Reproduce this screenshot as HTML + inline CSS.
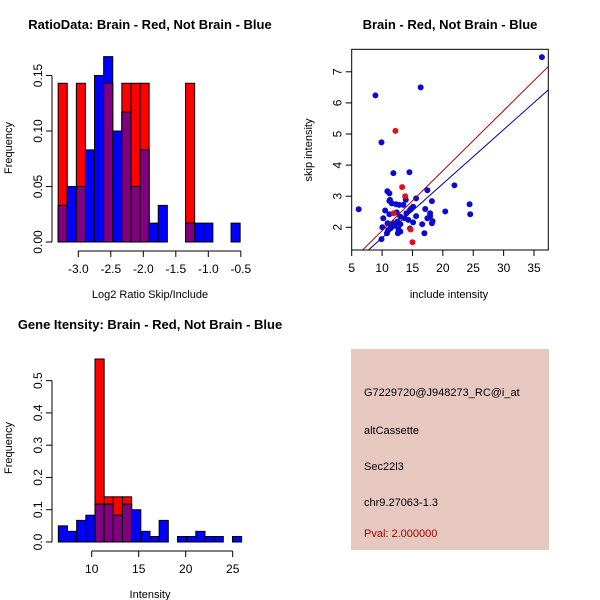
<!DOCTYPE html>
<html><head><meta charset="utf-8"><style>
html,body{margin:0;padding:0;background:#fff;}
svg{display:block;font-family:"Liberation Sans",Arial,sans-serif;}
</style></head><body>
<svg id="root" width="600" height="600" viewBox="0 0 600 600">
<rect x="0" y="0" width="600" height="600" fill="#fff"/>
<g>
<rect x="351" y="349" width="198" height="201" fill="#e6c8c1"/>
<text x="364" y="396" font-size="11" fill="#000">G7229720@J948273_RC@i_at</text>
<text x="364" y="434" font-size="11" fill="#000">altCassette</text>
<text x="364" y="470" font-size="11" fill="#000">Sec22l3</text>
<text x="364" y="506" font-size="11" fill="#000">chr9.27063-1.3</text>
<text x="364" y="537" font-size="11" fill="#a00000">Pval: 2.000000</text>
</g>
</svg>
<script>
// ---- Ratio histogram data ----
const ratioBinStart = -3.31;
const ratioBinWidth = 0.14;
const ratioRed  = [0.143,0,0.143,0,0,0.143,0,0.143,0.143,0.143,0,0,0,0,0.143,0,0,0,0,0];
const ratioBlue = [0.033,0.05,0.05,0.083,0.15,0.167,0.1,0.117,0.05,0.083,0.017,0.033,0,0,0.017,0.017,0.017,0,0,0.017];
const ratioXTicks = [-3.0,-2.5,-2.0,-1.5,-1.0,-0.5];
const ratioXTickLabels = ["-3.0","-2.5","-2.0","-1.5","-1.0","-0.5"];
const ratioYTicks = [0,0.05,0.10,0.15];
const ratioYTickLabels = ["0.00","0.05","0.10","0.15"];
// ---- Gene intensity histogram data ----
const geneBinStart = 6.45;
const geneBinWidth = 0.975;
const geneRed  = [0,0,0,0,0.567,0.14,0.14,0.14,0,0,0,0,0,0,0,0,0,0,0,0];
const geneBlue = [0.05,0.033,0.067,0.083,0.117,0.117,0.083,0.117,0.1,0.033,0.017,0.067,0,0.017,0.017,0.033,0.017,0.017,0,0.017];
const geneXTicks = [10,15,20,25];
const geneXTickLabels = ["10","15","20","25"];
const geneYTicks = [0,0.1,0.2,0.3,0.4,0.5];
const geneYTickLabels = ["0.0","0.1","0.2","0.3","0.4","0.5"];
// ---- Scatter data ----
const blueX = [36.3,8.9,16.35,9.9,11.86,14.5,21.9,17.45,10.87,11.2,6.15,11.3,11.6,11.2,20.4,24.4,24.5,18.2,17.9,17.9,18.3,18.2,17.1,17.45,16.6,16.96,15.6,15.1,15.6,15.1,14.6,13.9,14.0,14.3,13.7,13.5,12.8,12.3,12.4,13.0,12.5,13.0,12.7,13.0,12.6,14.6,10.5,10.2,10.05,9.9,10.9,10.8,11.2,11.4,11.3,11.9,11.0,14.8,12.1,11.5];
const blueY = [7.47,6.24,6.5,4.73,3.74,3.77,3.35,3.19,3.16,3.09,2.58,2.88,2.77,2.85,2.51,2.74,2.42,2.84,2.45,2.36,2.2,2.13,2.59,2.29,2.1,1.81,2.36,2.16,2.93,2.66,2.56,2.88,2.45,2.24,2.29,2.72,2.72,2.74,2.48,2.34,2.18,2.1,1.94,1.86,1.81,1.96,2.54,2.29,2.0,1.62,2.13,1.81,2.42,1.97,2.1,2.13,1.91,2.6,2.05,2.0];
const redX = [12.2,13.3,13.8,11.9,15.0,14.7];
const redY = [5.1,3.29,3.0,2.45,1.52,1.93];
const lineIntercept = [-0.04,-0.08];
const lineSlope = [0.193,0.174];
const lineColors = ["#b00000","#0000a0"];
const scatterXTicks = [5,10,15,20,25,30,35];
const scatterYTicks = [2,3,4,5,6,7];

const NS = "http://www.w3.org/2000/svg";
const root = document.getElementById('root');
function mk(tag, attrs, parent){
  const e = document.createElementNS(NS, tag);
  for (const k in attrs) e.setAttribute(k, attrs[k]);
  (parent||root).appendChild(e);
  return e;
}
function txt(x,y,s,size,parent,opts){
  const t = mk('text',Object.assign({x:x,y:y,'font-size':size,'text-anchor':'middle',fill:'#000'},opts||{}),parent);
  t.textContent = s;
  return t;
}

function histogram(cfg){
  const g = mk('g',{});
  
  
  const sx = v => cfg.x0px + (v - cfg.x0) * cfg.xppu;
  const sy = v => cfg.y0px - v * cfg.yppu;
  for (let i=0;i<cfg.red.length;i++){
    const xa = sx(cfg.binStart + i*cfg.binWidth), xb = sx(cfg.binStart + (i+1)*cfg.binWidth);
    const r = cfg.red[i], b = cfg.blue[i], m = Math.min(r,b);
    if (r>0){ const e=mk('rect',{x:xa,y:sy(r),width:xb-xa,height:sy(0)-sy(r),fill:'#ff0000',stroke:'#000','stroke-width':1},g);
        }
    if (b>0){ const e=mk('rect',{x:xa,y:sy(b),width:xb-xa,height:sy(0)-sy(b),fill:'#0000ff',stroke:'#000','stroke-width':1},g);
        }
    if (m>0){ const e=mk('rect',{x:xa,y:sy(m),width:xb-xa,height:sy(0)-sy(m),fill:'#800080',stroke:'#000','stroke-width':1},g);
        }
  }
  // y axis
  const ya = mk('g',{},g);
   
  const yt = cfg.yTicks;
  mk('line',{x1:cfg.axisX,x2:cfg.axisX,y1:sy(yt[0]),y2:sy(yt[yt.length-1]),stroke:'#000'},ya);
  yt.forEach((v,i)=>{
    mk('line',{x1:cfg.axisX,x2:cfg.axisX-6,y1:sy(v),y2:sy(v),stroke:'#000'},ya);
    const t = txt(cfg.axisX-10, sy(v), cfg.yLabels[i], 12, ya, {transform:`rotate(-90 ${cfg.axisX-10} ${sy(v)})`});
     
  });
  // x axis
  const xa = mk('g',{},g);
   
  const xt = cfg.xTicks;
  mk('line',{x1:sx(xt[0]),x2:sx(xt[xt.length-1]),y1:cfg.axisY,y2:cfg.axisY,stroke:'#000'},xa);
  xt.forEach((v,i)=>{
    mk('line',{x1:sx(v),x2:sx(v),y1:cfg.axisY,y2:cfg.axisY+6,stroke:'#000'},xa);
    const t = txt(sx(v), cfg.axisY+22, cfg.xLabels[i], 12, xa);
     
  });
  const tt = txt(150, cfg.titleY, cfg.title, 13, g, {'font-weight':'bold'});
   
  const xl = txt(150, cfg.xLabelY, cfg.xLabel, 11, g);
   
  const yy = cfg.yLabelY;
  const yl = txt(12, yy, 'Frequency', 11, g, {transform:`rotate(-90 12 ${yy})`});
   
}

histogram({name:'ratio-histogram', binStart:ratioBinStart, binWidth:ratioBinWidth, red:ratioRed, blue:ratioBlue,
  x0:-3.0, x0px:78.3, xppu:65.0, y0px:242, yppu:1110,
  xTicks:ratioXTicks, xLabels:ratioXTickLabels, yTicks:ratioYTicks, yLabels:ratioYTickLabels,
  axisX:52, axisY:251, title:'RatioData: Brain - Red, Not Brain - Blue', titleY:29,
  xLabel:'Log2 Ratio Skip/Include', xLabelY:298, yLabelY:148});

histogram({name:'gene-intensity-histogram', binStart:geneBinStart, binWidth:geneBinWidth, red:geneRed, blue:geneBlue,
  x0:10, x0px:91.7, xppu:9.4, y0px:542, yppu:322.7,
  xTicks:geneXTicks, xLabels:geneXTickLabels, yTicks:geneYTicks, yLabels:geneYTickLabels,
  axisX:52, axisY:551, title:'Gene Itensity: Brain - Red, Not Brain - Blue', titleY:329,
  xLabel:'Intensity', xLabelY:598, yLabelY:448});

// ---- scatter ----
(function(){
  const g = mk('g',{});
   
  const L=351.7, R=548.3, T=49.3, B=250;
  const sx = v => 351.7 + (v-5)*6.077;
  const sy = v => 227.3 - (v-2)*31.1;
  const cp = mk('clipPath',{id:'sc'},g);
  mk('rect',{x:L,y:T,width:R-L,height:B-T},cp);
  const pts = mk('g',{'clip-path':'url(#sc)'},g);
  blueX.forEach((x,i)=>{
    const c = mk('circle',{cx:sx(x),cy:sy(blueY[i]),r:3,fill:'#0a0ad2'},pts);
     
  });
  redX.forEach((x,i)=>{
    const c = mk('circle',{cx:sx(x),cy:sy(redY[i]),r:3,fill:'#e0101a'},pts);
     
  });
  lineIntercept.forEach((a,i)=>{
    const b = lineSlope[i], x1=0, x2=40;
    const l = mk('line',{x1:sx(x1),y1:sy(a+b*x1),x2:sx(x2),y2:sy(a+b*x2),stroke:lineColors[i],'stroke-width':1},pts);
     
  });
  mk('rect',{x:L,y:T,width:R-L,height:B-T,fill:'none',stroke:'#000'},g);
  const xa = mk('g',{},g);
   
  scatterXTicks.forEach(v=>{
    mk('line',{x1:sx(v),x2:sx(v),y1:B,y2:B+6,stroke:'#000'},xa);
    const t = txt(sx(v),B+22,String(v),12,xa);
     
  });
  const ya = mk('g',{},g);
   
  scatterYTicks.forEach(v=>{
    mk('line',{x1:L,x2:L-6,y1:sy(v),y2:sy(v),stroke:'#000'},ya);
    const t = txt(L-10,sy(v),String(v),12,ya,{transform:`rotate(-90 ${L-10} ${sy(v)})`});
     
  });
  const tt = txt(450,29,'Brain - Red, Not Brain - Blue',13,g,{'font-weight':'bold'});
   
  const xl = txt(449,298,'include intensity',11,g);
   
  const yl = txt(312,150,'skip intensity',11,g,{transform:'rotate(-90 312 150)'});
   
})();
</script>
</body></html>
